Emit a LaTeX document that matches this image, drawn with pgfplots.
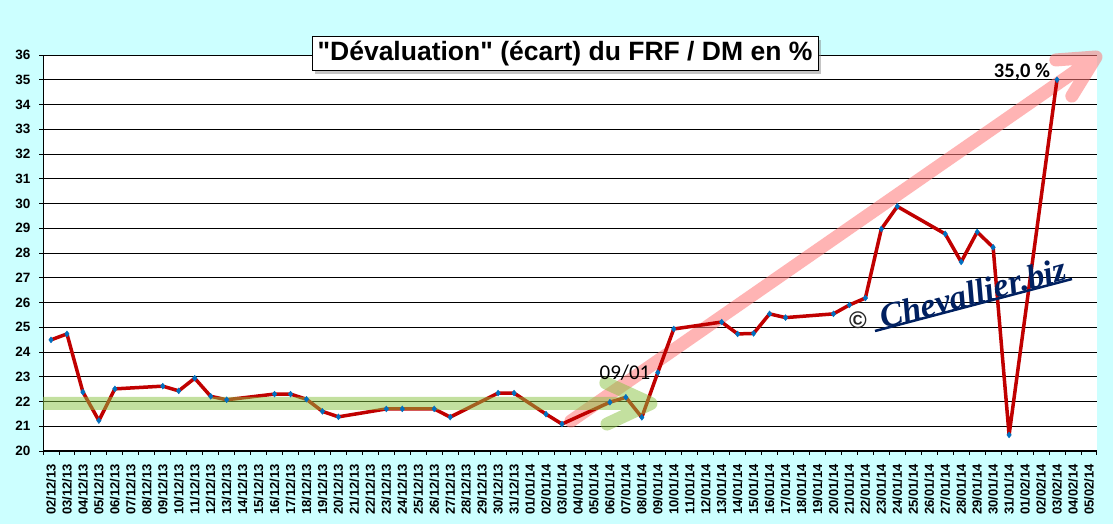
\documentclass[border=0pt]{standalone}
\usepackage{fontspec}
\setmainfont{Liberation Sans}
\newfontfamily\titlefont{Liberation Sans}[Ligatures=TeXOff]
\newfontfamily\calibri{Carlito}
\newfontfamily\serifit{Liberation Serif}
\usepackage{pgfplots}
\pgfplotsset{compat=1.18}
\usetikzlibrary{shadows}
\definecolor{bgcyan}{RGB}{204,255,255}
\definecolor{dred}{RGB}{192,0,0}
\definecolor{mblue}{RGB}{0,112,192}
\definecolor{agreen}{RGB}{137,195,65}
\definecolor{apink}{RGB}{255,120,120}
\definecolor{navy}{RGB}{0,32,96}
\begin{document}
\begin{tikzpicture}
\fill[bgcyan] (0,0) rectangle (1113pt,524pt);
\useasboundingbox (0,0) rectangle (1113pt,524pt);
\begin{axis}[
  at={(43pt,73pt)}, anchor=south west,
  scale only axis, width=1054pt, height=396pt,
  xmin=-0.5, xmax=65.5, ymin=20, ymax=36,
  clip=false,
  axis background/.style={fill=white},
  axis lines*=left,
  axis line style={-, black, line width=1pt},
  ytick={20,21,...,36},
  ymajorgrids,
  grid style={black, line width=0.9pt},
  xtick={0,1,...,65},
  minor xtick={-0.5,0.5,...,65.5},
  major x tick style={draw=none},
  tick align=outside,
  major tick length=4pt, minor tick length=4pt,
  tick style={black, line width=0.9pt},
  /pgf/number format/assume math mode=true,
  yticklabel style={font=\bfseries\fontsize{13.5}{13.5}\selectfont, text=black, xshift=-5pt},
  xticklabel style={font=\bfseries\fontsize{13}{13}\selectfont, text=black, rotate=90, anchor=east, inner xsep=9pt, inner ysep=0pt},
  xticklabels={02/12/13,03/12/13,04/12/13,05/12/13,06/12/13,07/12/13,08/12/13,09/12/13,10/12/13,11/12/13,12/12/13,13/12/13,14/12/13,15/12/13,16/12/13,17/12/13,18/12/13,19/12/13,20/12/13,21/12/13,22/12/13,23/12/13,24/12/13,25/12/13,26/12/13,27/12/13,28/12/13,29/12/13,30/12/13,31/12/13,01/01/14,02/01/14,03/01/14,04/01/14,05/01/14,06/01/14,07/01/14,08/01/14,09/01/14,10/01/14,11/01/14,12/01/14,13/01/14,14/01/14,15/01/14,16/01/14,17/01/14,18/01/14,19/01/14,20/01/14,21/01/14,22/01/14,23/01/14,24/01/14,25/01/14,26/01/14,27/01/14,28/01/14,29/01/14,30/01/14,31/01/14,01/02/14,02/02/14,03/02/14,04/02/14,05/02/14},
]
% pink trend arrow (under the series)
\draw[apink, opacity=0.55, line width=13pt, line cap=round, line join=round]
  (axis cs:32.56,21.21) -- (axis cs:65.44,35.92) -- (axis cs:62.93,35.80)
  (axis cs:65.44,35.92) -- (axis cs:63.93,34.34);
\addplot[dred, line width=3.5pt, line join=round, mark=diamond*, mark size=3pt,
  mark options={mblue, fill=mblue, line width=0.4pt}] coordinates {
 (0,24.49) (1,24.73) (2,22.38) (3,21.23) (4,22.51) (7,22.62) (8,22.43) (9,22.94)
 (10,22.21) (11,22.07) (14,22.30) (15,22.30) (16,22.09) (17,21.60) (18,21.38)
 (21,21.70) (22,21.70) (24,21.70) (25,21.37) (28,22.34) (29,22.34)
 (31,21.49) (32,21.09) (35,21.97) (36,22.17) (37,21.36) (38,23.17) (39,24.93)
 (42,25.21) (43,24.73) (44,24.75) (45,25.54) (46,25.39) (49,25.54) (50,25.90)
 (51,26.18) (52,28.97) (53,29.88) (56,28.77) (57,27.64) (58,28.85) (59,28.23)
 (60,20.65) (63,35.00)
};
% green band and arrow (over the series)
\begin{scope}
\clip (axis cs:-0.5,20) rectangle (axis cs:65.5,36);
\draw[agreen, opacity=0.5, line width=13pt, line cap=round, line join=round]
  (axis cs:-1.5,21.92) -- (axis cs:37.57,21.92)
  (axis cs:34.75,22.75) -- (axis cs:37.57,21.92) -- (axis cs:34.82,21.09);
\end{scope}
\end{axis}
% title
\node[draw=black, line width=1pt, fill=white, inner sep=0pt,
  minimum width=506pt, minimum height=34pt,
  drop shadow={shadow xshift=3pt, shadow yshift=-3pt, opacity=0.45, fill=gray},
  font=\titlefont\bfseries\fontsize{26.5}{26.5}\selectfont]
  at (565pt,470pt) {"Dévaluation" (écart) du FRF / DM en \%};
% annotations
\node[font=\calibri\fontsize{21}{21}\selectfont, inner sep=0pt] at (625pt,151pt) {09/01};
\node[font=\calibri\bfseries\fontsize{20.5}{20.5}\selectfont, inner sep=0pt] at (1022pt,452.5pt) {35,0 \%};
% watermark
\node[font=\serifit\bfseries\itshape\fontsize{34}{34}\selectfont, text=navy, rotate=15, inner sep=0pt] at (973pt,231pt) {Chevallier.biz};
\draw[navy, line width=2.5pt] (875pt,193pt) -- (1072pt,245pt);
\node[font=\bfseries\fontsize{24}{24}\selectfont, text=black!85, inner sep=0pt] at (858pt,204pt) {\textcopyright};
\end{tikzpicture}
\end{document}
